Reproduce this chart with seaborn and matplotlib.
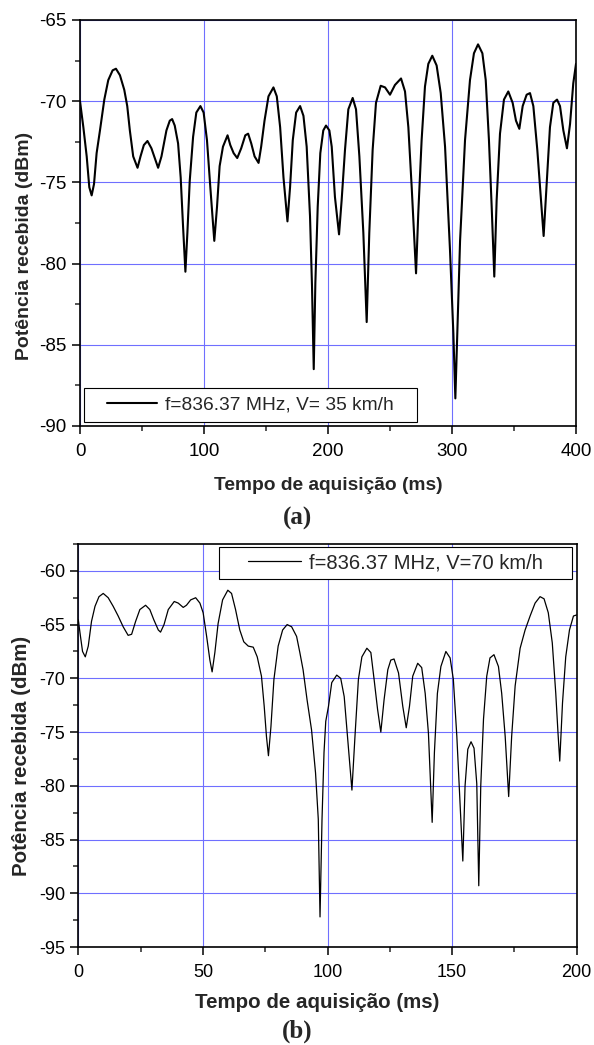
import numpy as np
import pandas as pd
import matplotlib
matplotlib.use("Agg")
import matplotlib.pyplot as plt
import seaborn as sns
from matplotlib.ticker import MultipleLocator
from matplotlib.patches import Rectangle

# (a) f=836.37 MHz, V=35 km/h
t_a = [0, 2.7, 5.4, 7.5, 9.4, 11.3, 13.4, 16.1, 19.6, 22.8, 26.3, 29.0, 32.2, 35.7,
       38.1, 40.2, 42.9, 46.4, 48.8, 51.5, 54.4, 57.6, 60.3, 63.0, 65.7, 69.7, 72.4,
       74.3, 76.4, 79.1, 81.2, 83.1, 85.0, 86.6, 88.5, 91.2, 93.8, 97.1, 99.7, 102.4,
       105.1, 108.3, 110.5, 112.6, 115.3, 119.0, 121.2, 123.9, 126.8, 130.0, 133.3,
       135.6, 138.1, 140.8, 144.0, 146.1, 148.8, 152.0, 156.0, 158.7, 161.4, 164.1,
       167.3, 169.4, 171.6, 174.3, 177.5, 180.2, 182.8, 185.5, 187.1, 188.5, 189.8,
       191.7, 193.8, 196.2, 198.4, 201.1, 203.0, 205.6, 208.9, 211.0, 213.7, 216.4,
       219.9, 222.6, 225.3, 228.5, 231.2, 233.3, 236.0, 238.7, 242.5, 246.0, 250.0,
       254.0, 258.9, 262.1, 264.8, 267.5, 271.0, 272.8, 275.5, 278.2, 280.9, 284.1,
       287.6, 290.9, 294.4, 298.4, 301.1, 302.7, 304.3, 306.5, 310.5, 314.5, 317.7,
       321.0, 324.5, 327.2, 329.8, 332.0, 334.1, 336.0, 338.7, 341.9, 345.4, 348.9,
       351.6, 354.3, 357.0, 360.2, 362.9, 365.6, 368.8, 371.8, 373.9, 376.3, 379.0,
       381.7, 384.7, 387.1, 389.8, 392.7, 395.2, 397.8, 400.0]
p_a = [-70.0, -71.6, -73.4, -75.3, -75.8, -75.1, -73.2, -71.8, -69.9, -68.7, -68.1,
       -68.0, -68.4, -69.3, -70.3, -71.8, -73.4, -74.1, -73.4, -72.7, -72.45, -72.9,
       -73.5, -74.1, -73.4, -71.8, -71.2, -71.1, -71.5, -72.6, -74.7, -77.7, -80.5,
       -78.1, -74.9, -72.2, -70.7, -70.3, -70.7, -72.4, -75.3, -78.6, -76.5, -74.0,
       -72.8, -72.1, -72.7, -73.2, -73.5, -72.9, -72.1, -72.0, -72.6, -73.4, -73.8,
       -72.8, -71.2, -69.7, -69.15, -69.7, -71.6, -74.7, -77.4, -75.3, -72.4, -70.7,
       -70.3, -70.9, -72.8, -77.1, -81.4, -86.5, -81.2, -76.5, -73.2, -71.8, -71.5,
       -71.8, -72.8, -75.9, -78.2, -76.1, -73.0, -70.5, -69.8, -70.5, -73.4, -78.1,
       -83.6, -78.1, -73.0, -70.1, -69.05, -69.15, -69.6, -69.0, -68.6, -69.4, -71.6,
       -75.3, -80.6, -76.9, -72.4, -69.1, -67.7, -67.2, -67.8, -69.5, -72.8, -79.2,
       -84.3, -88.3, -84.3, -78.6, -72.4, -68.7, -67.05, -66.5, -67.05, -68.7, -72.4,
       -76.5, -80.8, -76.1, -72.0, -69.9, -69.4, -70.1, -71.2, -71.7, -70.3, -69.6,
       -69.5, -70.3, -73.0, -76.1, -78.3, -75.1, -71.6, -70.1, -69.9, -70.3, -71.8,
       -72.9, -71.4, -68.9, -67.7]

# (b) f=836.37 MHz, V=70 km/h
t_b = [0, 0.7, 1.7, 2.8, 4.0, 5.3, 6.7, 8.3, 10.0, 12.0, 14.0, 16.0, 18.0, 20.0,
       21.4, 23.0, 24.7, 27.0, 28.7, 30.3, 32.1, 33.0, 34.4, 36.1, 38.5, 40.1, 42.1,
       43.4, 45.1, 47.1, 48.8, 50.1, 51.5, 52.8, 53.7, 54.8, 56.1, 57.9, 60.0, 61.5,
       63.1, 64.8, 66.4, 68.2, 70.2, 71.8, 73.5, 74.6, 75.5, 76.3, 77.3, 78.5, 80.2,
       82.0, 83.8, 85.6, 87.6, 88.9, 90.2, 91.8, 93.6, 95.2, 96.3, 97.0, 97.8, 98.6,
       99.3, 100.4, 101.7, 103.7, 105.3, 106.7, 108.0, 109.8, 111.1, 112.4, 113.8,
       115.8, 117.4, 118.7, 120.1, 121.4, 122.7, 124.2, 125.4, 126.7, 128.5, 130.2,
       131.6, 132.9, 134.2, 136.2, 137.8, 139.2, 140.5, 142.0, 142.9, 144.1, 145.5,
       147.5, 149.2, 150.5, 151.9, 153.2, 154.3, 155.2, 156.3, 157.6, 158.8, 159.9,
       160.7, 161.5, 162.6, 163.9, 165.2, 166.8, 168.6, 169.9, 171.3, 172.7, 173.9,
       175.3, 177.3, 179.3, 181.3, 183.3, 185.3, 186.9, 188.6, 190.2, 191.6, 192.5,
       193.2, 194.3, 195.6, 197.1, 198.7, 200.0]
p_b = [-64.55, -65.8, -67.5, -68.0, -67.0, -64.7, -63.3, -62.4, -62.1, -62.5, -63.3,
       -64.2, -65.2, -66.0, -65.9, -64.7, -63.6, -63.2, -63.6, -64.55, -65.5, -65.7,
       -65.0, -63.6, -62.85, -63.0, -63.4, -63.2, -62.7, -62.5, -63.0, -63.9, -66.1,
       -68.3, -69.4, -67.6, -64.9, -62.7, -61.8, -62.1, -63.6, -65.5, -66.6, -67.0,
       -67.1, -68.0, -69.8, -72.6, -75.4, -77.2, -74.5, -70.1, -67.0, -65.5, -65.0,
       -65.2, -66.1, -67.6, -69.2, -72.0, -74.8, -78.8, -83.1, -92.2, -83.1, -76.9,
       -74.0, -72.6, -70.4, -69.7, -70.0, -71.7, -75.4, -80.4, -75.1, -70.1, -68.0,
       -67.2, -67.6, -70.1, -72.9, -75.0, -72.0, -69.2, -68.3, -68.2, -69.5, -72.6,
       -74.6, -72.6, -69.8, -68.6, -69.0, -71.4, -75.1, -83.4, -76.9, -71.4, -68.9,
       -67.5, -68.1, -70.1, -75.4, -81.6, -87.0, -80.0, -76.6, -75.9, -76.5, -79.8,
       -89.3, -80.0, -73.8, -69.8, -68.1, -67.8, -68.9, -71.4, -75.4, -81.0, -75.4,
       -70.7, -67.2, -65.5, -64.2, -63.0, -62.4, -62.6, -63.9, -66.7, -71.4, -75.1,
       -77.7, -72.3, -68.0, -65.5, -64.2, -64.1]

label_a = "f=836.37 MHz, V= 35 km/h"
label_b = "f=836.37 MHz, V=70 km/h"

df_a = pd.DataFrame({"t": t_a, "p": p_a})
df_b = pd.DataFrame({"t": t_b, "p": p_b})

sns.set_style("ticks")
plt.rcParams["font.family"] = ["Liberation Sans", "DejaVu Sans"]
plt.rcParams["axes.unicode_minus"] = False

GRID = "#6f6fff"

fig = plt.figure(figsize=(5.94, 10.45), dpi=100)
ax1 = fig.add_axes([80 / 594, 1 - 426 / 1045, 496 / 594, 406 / 1045])
ax2 = fig.add_axes([78.3 / 594, 1 - 947 / 1045, 498.4 / 594, 403 / 1045])


def style(ax, xlim, ylim, xmaj, ymaj, fs, pad):
    ax.set_xlim(*xlim)
    ax.set_ylim(*ylim)
    ax.xaxis.set_major_locator(MultipleLocator(xmaj))
    ax.xaxis.set_minor_locator(MultipleLocator(xmaj / 2))
    ax.yaxis.set_major_locator(MultipleLocator(ymaj))
    ax.yaxis.set_minor_locator(MultipleLocator(ymaj / 2))
    ax.grid(True, which="major", color=GRID, linewidth=0.8)
    ax.set_axisbelow(True)
    ax.tick_params(which="major", direction="out", length=6, width=1.1,
                   labelsize=fs, colors="black", top=False, right=False)
    ax.tick_params(axis="x", which="major", pad=pad)
    ax.tick_params(which="minor", direction="out", length=3.5, width=1.1,
                   top=False, right=False)
    for sp in ax.spines.values():
        sp.set_color("black")
        sp.set_linewidth(1.2)


def boxed_legend(ax, rect, fs):
    # opaque square frame, entry centred inside it
    ax.add_patch(Rectangle(rect[:2], rect[2], rect[3], transform=ax.transAxes,
                           facecolor="white", edgecolor="black", linewidth=0.8,
                           zorder=4))
    ax.legend(loc="center", bbox_to_anchor=rect, frameon=False, fontsize=fs,
              handlelength=2.6, handletextpad=0.4, borderpad=0,
              borderaxespad=0)


sns.lineplot(data=df_a, x="t", y="p", ax=ax1, color="black", linewidth=1.5,
             estimator=None, sort=False, label=label_a)
style(ax1, (0, 400), (-90, -65), 100, 5, 13.5, 6.5)
ax1.set_xlabel("Tempo de aquisição (ms)", fontsize=13.8, fontweight="bold")
ax1.set_ylabel("Potência recebida (dBm)", fontsize=14, fontweight="bold")
ax1.xaxis.set_label_coords(0.5, -(477 - 426) / 406)
ax1.yaxis.set_label_coords(-0.095, 1 - (246 - 20) / 406)
boxed_legend(ax1, (4 / 496, 4 / 406, 333 / 496, 34 / 406), 13.8)

sns.lineplot(data=df_b, x="t", y="p", ax=ax2, color="black", linewidth=0.9,
             estimator=None, sort=False, label=label_b)
style(ax2, (0, 200), (-95, -57.5), 50, 5, 13, 6.5)
ax2.set_xlabel("Tempo de aquisição (ms)", fontsize=14.8, fontweight="bold")
ax2.set_ylabel("Potência recebida (dBm)", fontsize=14.8, fontweight="bold")
ax2.xaxis.set_label_coords((317.5 - 78.3) / 498.4, -(993 - 947) / 403)
ax2.yaxis.set_label_coords(-0.095, 1 - (756 - 544) / 403)
boxed_legend(ax2, (140.7 / 498.4, 1 - 35 / 403, 353 / 498.4, 32 / 403), 14.5)

fig.text(0.5, 1 - 518 / 1045, "(a)", ha="center", va="center", fontsize=18,
         fontweight="bold", family=["Liberation Serif", "DejaVu Serif"])
fig.text(0.5, 1 - 1031 / 1045, "(b)", ha="center", va="center", fontsize=18,
         fontweight="bold", family=["Liberation Serif", "DejaVu Serif"])

fig.savefig("out.png", dpi=100, facecolor="white")
